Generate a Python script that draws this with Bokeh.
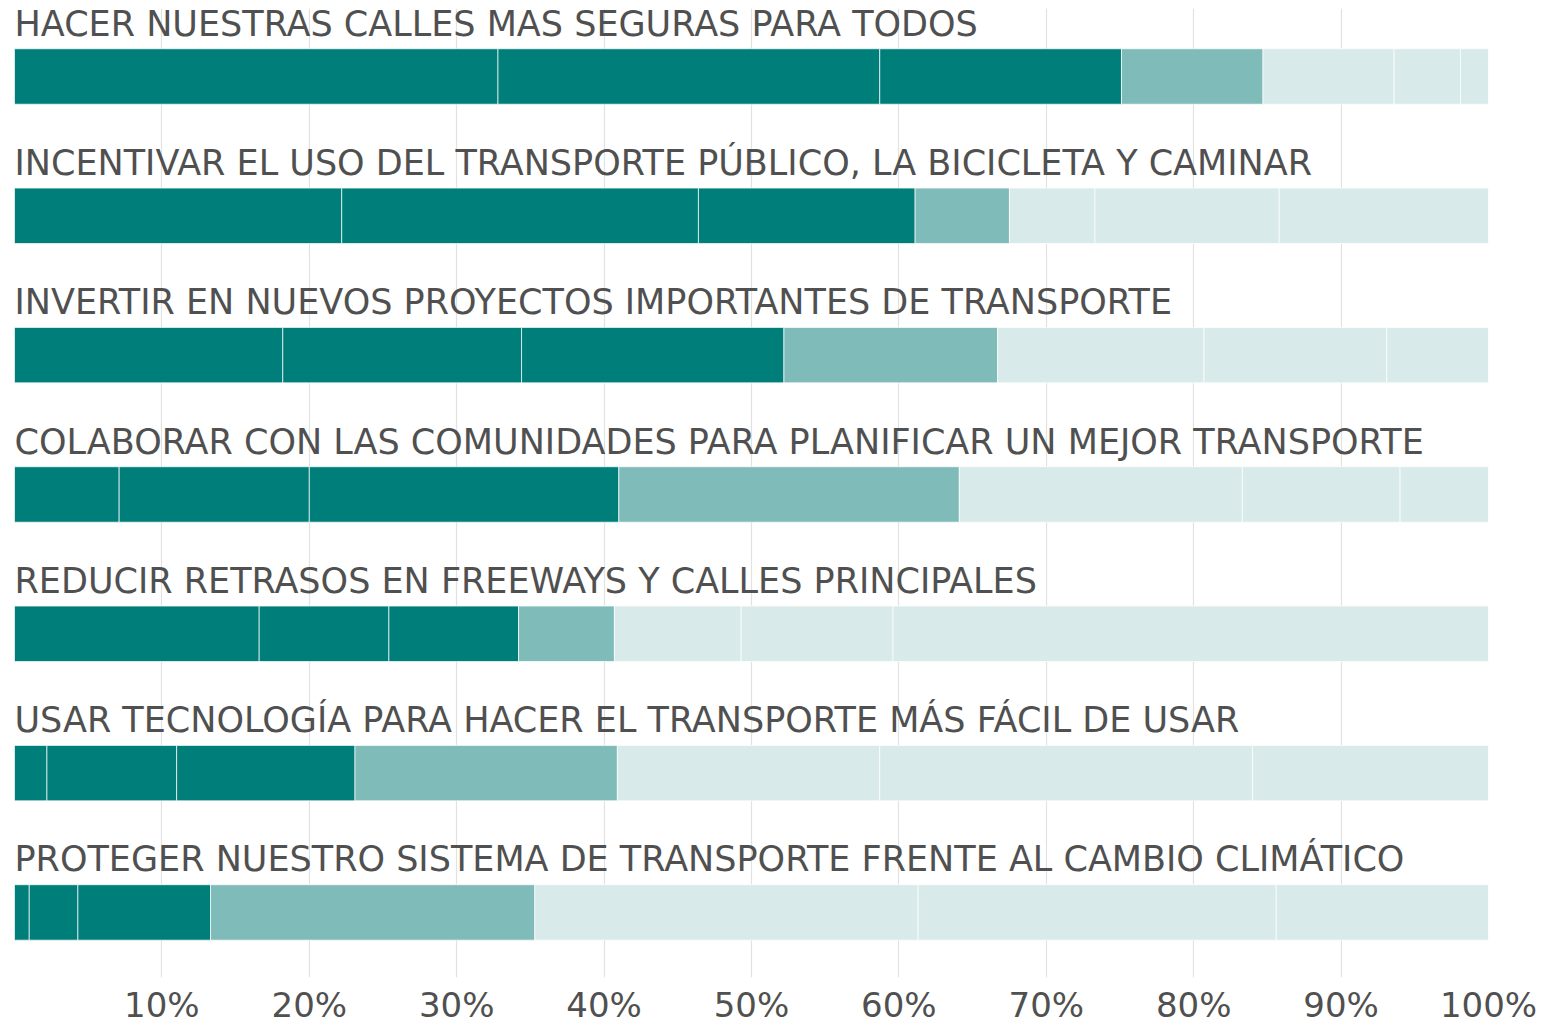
from bokeh.plotting import figure
from bokeh.models import ColumnDataSource, Range1d, FixedTicker, CustomJSTickFormatter
from bokeh.core.properties import value
from bokeh.embed import file_html
from bokeh.resources import INLINE

categories = [
    "HACER NUESTRAS CALLES MAS SEGURAS PARA TODOS",
    "INCENTIVAR EL USO DEL TRANSPORTE PÚBLICO, LA BICICLETA Y CAMINAR",
    "INVERTIR EN NUEVOS PROYECTOS IMPORTANTES DE TRANSPORTE",
    "COLABORAR CON LAS COMUNIDADES PARA PLANIFICAR UN MEJOR TRANSPORTE",
    "REDUCIR RETRASOS EN FREEWAYS Y CALLES PRINCIPALES",
    "USAR TECNOLOGÍA PARA HACER EL TRANSPORTE MÁS FÁCIL DE USAR",
    "PROTEGER NUESTRO SISTEMA DE TRANSPORTE FRENTE AL CAMBIO CLIMÁTICO",
]

# seven segments per bar (percent), left to right
s1 = [32.8, 22.2, 18.2, 7.1, 16.6, 2.2, 1.0]
s2 = [25.9, 24.2, 16.2, 12.9, 8.8, 8.8, 3.3]
s3 = [16.4, 14.7, 17.8, 21.0, 8.8, 12.1, 9.0]
s4 = [9.6, 6.4, 14.5, 23.1, 6.5, 17.8, 22.0]
s5 = [8.9, 5.8, 14.0, 19.2, 8.6, 17.8, 26.0]
s6 = [4.5, 12.5, 12.4, 10.7, 10.3, 25.3, 24.3]
s7 = [1.9, 14.2, 6.9, 6.0, 40.4, 16.0, 14.4]

tick_values = [10, 20, 30, 40, 50, 60, 70, 80, 90, 100]

DARK = "#007e7a"
MID = "#7fbbb9"
LIGHT = "#d8eae9"
seg_colors = [DARK, DARK, DARK, MID, LIGHT, LIGHT, LIGHT]

n = len(categories)
ypos = list(range(n))
source = ColumnDataSource(dict(
    y=ypos, s1=s1, s2=s2, s3=s3, s4=s4, s5=s5, s6=s6, s7=s7,
))
label_src = ColumnDataSource(dict(
    x=[0] * n, y=[v - 0.38 for v in ypos], text=categories,
))

p = figure(
    frame_width=1474, frame_height=969,
    x_range=Range1d(0, 100), y_range=Range1d(n - 1 + 0.467, -0.488),
    output_backend="svg", toolbar_location=None,
    min_border_left=14, min_border_right=60, min_border_top=8, min_border_bottom=0,
)
p.outline_line_color = None
p.background_fill_color = "white"
p.border_fill_color = "white"

p.hbar_stack(["s1", "s2", "s3", "s4", "s5", "s6", "s7"], y="y", height=0.398,
             color=seg_colors, source=source,
             line_color="white", line_width=1, line_alpha=0.7)

p.text(x="x", y="y", text="text", source=label_src,
       text_font=value("DejaVu Sans"), text_font_size="35px", text_color="#505050",
       text_align="left", text_baseline="alphabetic")

p.yaxis.visible = False
p.ygrid.grid_line_color = None
p.xaxis.ticker = FixedTicker(ticks=tick_values)
p.xaxis.formatter = CustomJSTickFormatter(code="return tick + '%';")
p.xaxis.axis_line_color = None
p.xaxis.major_tick_line_color = None
p.xaxis.minor_tick_line_color = None
p.xaxis.major_tick_out = 0
p.xaxis.major_tick_in = 0
p.xaxis.major_label_text_font = "DejaVu Sans"
p.xaxis.major_label_text_font_size = "34px"
p.xaxis.major_label_text_color = "#505050"
p.xaxis.major_label_standoff = 7
p.xgrid.ticker = FixedTicker(ticks=tick_values)
p.xgrid.grid_line_color = "#e2e2e2"
p.xgrid.grid_line_width = 1.2

open("out.html", "w").write(file_html(p, INLINE))
